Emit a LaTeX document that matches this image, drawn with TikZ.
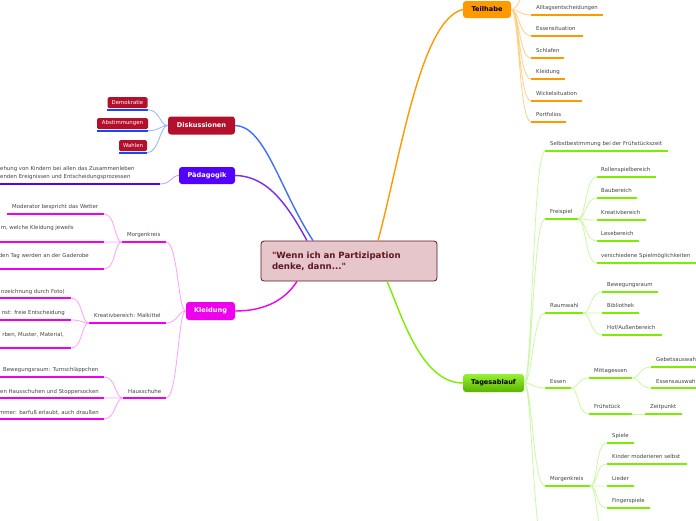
\documentclass[tikz,border=0pt]{standalone}
\usepackage{fontspec}
\setmainfont{DejaVu Sans}
\usepackage{tikz}
\usetikzlibrary{calc}
\definecolor{rootfill}{HTML}{E6C6CA}
\definecolor{rootdraw}{HTML}{5E1822}
\definecolor{teilorange}{HTML}{FF9900}
\definecolor{teillight}{HTML}{FFD08A}
\definecolor{tagesgreen}{HTML}{7BEE00}
\definecolor{tageslight}{HTML}{CDF7A6}
\definecolor{diskred}{HTML}{B3102D}
\definecolor{diskblue}{HTML}{1447FF}
\definecolor{diskline}{HTML}{3F6FFF}
\definecolor{disklight}{HTML}{93B2FF}
\definecolor{paedviolet}{HTML}{5200FF}
\definecolor{paedline}{HTML}{7B2BE8}
\definecolor{paedlight}{HTML}{BFA0FF}
\definecolor{kleidmag}{HTML}{EE00EE}
\definecolor{kleidlight}{HTML}{FFA0FF}
\definecolor{leafgray}{HTML}{444444}

% [node options]{name}{colour}{x left}{x right}{y of line}{x text}{y text}{text}
\newcommand{\twig}[9][]{%
  \coordinate (#2-w) at (#4,#6);
  \coordinate (#2-e) at (#5,#6);
  \draw[twigline,#3] (#2-w) -- (#2-e);
  \node[twigtext,#1] (#2) at (#7,#8) {#9};
}

\begin{document}
\begin{tikzpicture}[x=1pt,y=-1pt,
    twigline/.style={line width=2pt},
    twigjoin/.style={line width=0.8pt},
    mainline/.style={line width=1.4pt},
    twigtext/.style={anchor=west,inner sep=0pt,text=leafgray,
      font=\fontsize{5.4}{6.6}\selectfont,text height=4pt,text depth=1pt},
    branchbox/.style={rounded corners=3pt,inner sep=0pt,text=white,
      font=\fontsize{6.6}{8}\selectfont\bfseries},
    leafbox/.style={fill=diskred,rounded corners=1.5pt,inner sep=0pt,text=white,
      minimum height=11pt,font=\fontsize{5.4}{6.6}\selectfont},
    twigright/.style={out=0,in=180,out distance=8pt,in distance=12pt},
    twigleft/.style={out=180,in=0,out distance=8pt,in distance=12pt}]
    \useasboundingbox (0,0) rectangle (696,520);
    \fill[white] (0,0) rectangle (696,520);
    %Root
    \node[fill=rootfill,draw=rootdraw,thick,rounded corners=3pt,
      text width=154pt,inner xsep=11pt,minimum height=40pt,align=left,
      text=rootdraw,font=\fontsize{8.6}{11}\selectfont\bfseries] (root) at (349,261)
      {\textquotedbl Wenn ich an Partizipation\\denke, dann...\textquotedbl};
    %Branches
    \node[branchbox,fill=teilorange,text=black,minimum width=48pt,minimum height=17pt] (teil) at (487,9.5) {Teilhabe};
    \node[branchbox,top color=tagesgreen!80!white,bottom color=tagesgreen!75!black,text=black,
      minimum width=61pt,minimum height=18pt] (tages) at (493.5,383) {Tagesablauf};
    \node[branchbox,fill=diskred,minimum width=67pt,minimum height=18pt] (disk) at (201.5,125.5) {Diskussionen};
    \node[branchbox,fill=paedviolet,minimum width=56pt,minimum height=17pt] (paed) at (207,175.5) {Pädagogik};
    \node[branchbox,fill=kleidmag,minimum width=49pt,minimum height=18pt] (kleid) at (210.5,311) {Kleidung};
    %Main connectors
    \draw[mainline,teilorange] ([xshift=29pt]root.north) .. controls (400,160) and (420,20) .. (teil.west);
    \draw[mainline,tagesgreen] ([xshift=38pt]root.south) .. controls (400,310) and (420,383) .. (tages.west);
    \draw[mainline,diskline] ([xshift=-36pt]root.north) .. controls (280,190) and (265,126) .. (disk.east);
    \draw[mainline,paedline] ([xshift=-42pt]root.north) .. controls (290,210) and (270,176) .. (paed.east);
    \draw[mainline,kleidmag] ([xshift=-52pt]root.south) .. controls (285,300) and (265,311) .. (kleid.east);

    %Teilhabe
    \coordinate (t0-w) at (531,-8);
    \twig{t1}{teilorange}{531}{603}{15}{536}{8}{Alltagsentscheidungen}
    \twig{t2}{teilorange}{531}{583}{36}{536}{29}{Essensituation}
    \twig{t3}{teilorange}{531}{564}{58}{536}{51}{Schlafen}
    \twig{t4}{teilorange}{531}{565}{79}{536}{72}{Kleidung}
    \twig{t5}{teilorange}{531}{582}{101}{536}{94}{Wickelsituation}
    \twig{t6}{teilorange}{531}{566}{122}{536}{115}{Portfolios}
    \draw[twigjoin,teillight] (teil.east) to[twigright] (t0-w) (teil.east) to[twigright] (t1-w)
      (teil.east) to[twigright] (t2-w) (teil.east) to[twigright] (t3-w) (teil.east) to[twigright] (t4-w)
      (teil.east) to[twigright] (t5-w) (teil.east) to[twigright] (t6-w);

    %Tagesablauf
    \twig{g1}{tagesgreen}{545}{668}{151}{550}{144}{Selbstbestimmung bei der Frühstückszeit}
    \twig{g2}{tagesgreen}{545}{578}{219}{550}{212}{Freispiel}
    \twig{g21}{tagesgreen}{597}{656}{177}{601}{170}{Rollenspielbereich}
    \twig{g22}{tagesgreen}{597}{637}{198}{601}{191}{Baubereich}
    \twig{g23}{tagesgreen}{597}{646}{220}{601}{213}{Kreativbereich}
    \twig{g24}{tagesgreen}{597}{639}{241}{601}{234}{Lesebereich}
    \twig{g25}{tagesgreen}{597}{696}{263}{601}{256}{verschiedene Spielmöglichkeiten}
    \twig{g3}{tagesgreen}{545}{583}{313}{550}{306}{Raumwahl}
    \twig{g31}{tagesgreen}{602}{658}{292}{607}{285}{Bewegungsraum}
    \twig{g32}{tagesgreen}{602}{639}{313}{607}{306}{Bibliothek}
    \twig{g33}{tagesgreen}{602}{662}{335}{607}{328}{Hof/Außenbereich}
    \twig{g4}{tagesgreen}{545}{571}{388}{550}{382}{Essen}
    \twig{g41}{tagesgreen}{589}{632}{378}{594}{371}{Mittagessen}
    \twig{g411}{tagesgreen}{651}{700}{367}{656}{360}{Gebetsauswahl}
    \twig{g412}{tagesgreen}{651}{700}{388}{656}{382}{Essensauswahl}
    \twig{g42}{tagesgreen}{589}{632}{414}{594}{407}{Frühstück}
    \twig{g421}{tagesgreen}{645}{682}{414}{650}{407}{Zeitpunkt}
    \twig{g5}{tagesgreen}{545}{590}{486}{550}{479}{Morgenkreis}
    \twig{g51}{tagesgreen}{607}{634}{443}{612}{436}{Spiele}
    \twig{g52}{tagesgreen}{607}{687}{464}{612}{457}{Kinder moderieren selbst}
    \twig{g53}{tagesgreen}{607}{634}{486}{612}{479}{Lieder}
    \twig{g54}{tagesgreen}{607}{650}{508}{612}{501}{Fingerspiele}
    \coordinate (g55-w) at (607,535);
    \coordinate (g6-w) at (545,550);
    \draw[twigjoin,tageslight] (tages.east) to[twigright] (g1-w) (tages.east) to[twigright] (g2-w)
      (tages.east) to[twigright] (g3-w) (tages.east) to[twigright] (g4-w)
      (tages.east) to[twigright] (g5-w) (tages.east) to[twigright] (g6-w);
    \draw[twigjoin,tageslight] (g2-e) to[twigright] (g21-w) (g2-e) to[twigright] (g22-w)
      (g2-e) to[twigright] (g23-w) (g2-e) to[twigright] (g24-w) (g2-e) to[twigright] (g25-w);
    \draw[twigjoin,tageslight] (g3-e) to[twigright] (g31-w) (g3-e) to[twigright] (g32-w)
      (g3-e) to[twigright] (g33-w);
    \draw[twigjoin,tageslight] (g4-e) to[twigright] (g41-w) (g4-e) to[twigright] (g42-w);
    \draw[twigjoin,tageslight] (g41-e) to[twigright] (g411-w) (g41-e) to[twigright] (g412-w);
    \draw[twigjoin,tageslight] (g42-e) -- (g421-w);
    \draw[twigjoin,tageslight] (g5-e) to[twigright] (g51-w) (g5-e) to[twigright] (g52-w)
      (g5-e) to[twigright] (g53-w) (g5-e) to[twigright] (g54-w) (g5-e) to[twigright] (g55-w);

    %Diskussionen
    \node[leafbox,minimum width=40pt] (demo) at (127.5,102.5) {Demokratie};
    \node[leafbox,minimum width=51pt] (abst) at (122.5,123.5) {Abstimmungen};
    \node[leafbox,minimum width=28pt] (wahl) at (133,145.5) {Wahlen};
    \draw[twigline,diskblue] ([yshift=-1.5pt]demo.south west) -- ([yshift=-1.5pt]demo.south east);
    \draw[twigline,diskblue] ([yshift=-1.5pt]abst.south west) -- ([yshift=-1.5pt]abst.south east);
    \draw[twigline,diskblue] ([yshift=-1.5pt]wahl.south west) -- ([yshift=-1.5pt]wahl.south east);
    \draw[twigjoin,disklight] (disk.west) to[twigleft] ([yshift=-1.5pt]demo.south east)
      (disk.west) to[twigleft] ([yshift=-1.5pt]abst.south east)
      (disk.west) to[twigleft] ([yshift=-1.5pt]wahl.south east);

    %Paedagogik
    \coordinate (p1-w) at (0,184);
    \coordinate (p1-e) at (160,184);
    \draw[twigline,paedviolet] (p1-w) -- (p1-e);
    \node[twigtext,anchor=north west,align=left,text height=,text depth=,
      font=\fontsize{5.4}{8}\selectfont] (p1) at (0,166.5)
      {ehung von Kindern bei allen das Zusammenleben\\enden Ereignissen und Entscheidungsprozessen};
    \draw[twigjoin,paedlight] (paed.west) to[twigleft] (p1-e);

    %Kleidung
    \twig{k1}{kleidmag}{122}{166}{242}{127}{235}{Morgenkreis}
    \twig{k11}{kleidmag}{7}{104}{214}{12}{207}{Moderator bespricht das Wetter}
    \twig[anchor=east]{k12}{kleidmag}{0}{104}{242}{74}{228}{m, welche Kleidung jeweils}
    \twig[anchor=east]{k13}{kleidmag}{0}{104}{269}{89}{256}{den Tag werden an der Gaderobe}
    \twig{k2}{kleidmag}{89}{166}{323}{94}{316}{Kreativbereich: Malkittel}
    \twig[anchor=east]{k21}{kleidmag}{0}{71}{298}{65}{292}{nzeichnung durch Foto)}
    \twig[anchor=east]{k22}{kleidmag}{0}{71}{320}{65}{313}{nst: freie Entscheidung}
    \twig[anchor=east]{k23}{kleidmag}{0}{71}{348}{64}{335}{rben, Muster, Material,}
    \twig{k3}{kleidmag}{123}{166}{398}{128}{392}{Hausschuhe}
    \twig{k31}{kleidmag}{0}{104}{377}{3}{370}{Bewegungsraum: Turnschläppchen}
    \twig[anchor=east]{k32}{kleidmag}{0}{104}{398}{99}{392}{en Hausschuhen und Stoppersocken}
    \twig[anchor=east]{k33}{kleidmag}{0}{104}{419}{99}{413}{mmer: barfuß erlaubt, auch draußen}
    \draw[twigjoin,kleidlight] (kleid.west) to[twigleft] (k1-e) (kleid.west) to[twigleft] (k2-e)
      (kleid.west) to[twigleft] (k3-e);
    \draw[twigjoin,kleidlight] (k1-w) to[twigleft] (k11-e) (k1-w) to[twigleft] (k12-e)
      (k1-w) to[twigleft] (k13-e);
    \draw[twigjoin,kleidlight] (k2-w) to[twigleft] (k21-e) (k2-w) to[twigleft] (k22-e)
      (k2-w) to[twigleft] (k23-e);
    \draw[twigjoin,kleidlight] (k3-w) to[twigleft] (k31-e) (k3-w) to[twigleft] (k32-e)
      (k3-w) to[twigleft] (k33-e);
\end{tikzpicture}
\end{document}
